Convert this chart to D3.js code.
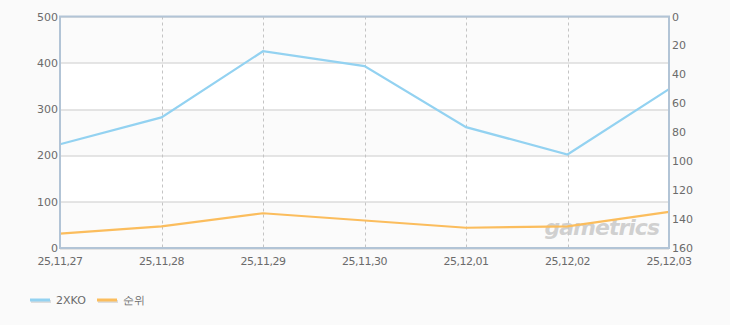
<!DOCTYPE html>
<html>
<head>
<meta charset="utf-8">
<script src="https://cdn.jsdelivr.net/npm/d3@7"></script>
<style>
  body { margin: 0; background: #fafafa; }
  text { font-family: 'DejaVu Sans', sans-serif; }
</style>
</head>
<body>
<script>
const width = 730
const height = 325

// data
const dates = ['25,11,27', '25,11,28', '25,11,29', '25,11,30', '25,12,01', '25,12,02', '25,12,03']
const viewers = [224, 282, 425, 393, 261, 202, 343]
const ranks = [150, 145, 136, 141, 146, 145, 135]
const leftTicks = [0, 100, 200, 300, 400, 500]
const rightTicks = [0, 20, 40, 60, 80, 100, 120, 140, 160]

const margin = { top: 16.5, left: 60, right: 61, bottom: 77 }
const pw = width - margin.left - margin.right
const ph = height - margin.top - margin.bottom

let svg = d3.select('body').append('svg')
  .attr('width', width)
  .attr('height', height)

let x = d3.scalePoint().domain(dates).range([0, pw])
let y = d3.scaleLinear().domain([0, 500]).range([ph, 0])
let yr = d3.scaleLinear().domain([0, 160]).range([0, ph])

let g = svg.append('g')
  .attr('transform', `translate(${margin.left},${margin.top})`)

// alternating bands
g.selectAll('rect.band')
  .data(d3.range(5))
  .enter()
  .append('rect')
  .attr('x', 0)
  .attr('width', pw)
  .attr('y', (i) => y(100 * (i + 1)))
  .attr('height', (i) => y(100 * i) - y(100 * (i + 1)))
  .attr('fill', (i) => i % 2 === 0 ? '#fbfbfb' : '#ffffff')

// horizontal grid
g.selectAll('line.hgrid')
  .data(leftTicks)
  .enter()
  .append('line')
  .attr('x1', 0)
  .attr('x2', pw)
  .attr('y1', (d) => Math.round(y(d)) + 0.5)
  .attr('y2', (d) => Math.round(y(d)) + 0.5)
  .attr('stroke', '#cccccc')

// vertical dashed grid
g.selectAll('line.vgrid')
  .data(dates)
  .enter()
  .append('line')
  .attr('x1', (d) => Math.round(x(d)) + 0.5)
  .attr('x2', (d) => Math.round(x(d)) + 0.5)
  .attr('y1', 0)
  .attr('y2', ph)
  .attr('stroke', '#c4c4c4')
  .attr('stroke-dasharray', '3,3')

// watermark
g.append('text')
  .attr('x', pw - 10)
  .attr('y', ph - 13)
  .attr('text-anchor', 'end')
  .attr('font-size', 22)
  .attr('font-weight', 'bold')
  .attr('font-style', 'italic')
  .attr('fill', '#c9c9c9')
  .attr('fill-opacity', 0.85)
  .attr('letter-spacing', -1)
  .text('gametrics')

// lines
let blueLine = d3.line()
  .x((d, i) => x(dates[i]))
  .y((d) => y(d))

let orangeLine = d3.line()
  .x((d, i) => x(dates[i]))
  .y((d) => yr(d))

g.append('path')
  .datum(viewers)
  .attr('d', blueLine)
  .attr('fill', 'none')
  .attr('stroke', '#93d2f1')
  .attr('stroke-width', 2.2)

g.append('path')
  .datum(ranks)
  .attr('d', orangeLine)
  .attr('fill', 'none')
  .attr('stroke', '#fbbd5d')
  .attr('stroke-width', 2.2)

// frame
g.append('rect')
  .attr('x', 0)
  .attr('y', 0)
  .attr('width', pw)
  .attr('height', ph)
  .attr('fill', 'none')
  .attr('stroke', '#b2c4d6')
  .attr('stroke-width', 2)

// left axis labels
g.selectAll('text.yl')
  .data(leftTicks)
  .enter()
  .append('text')
  .attr('x', -2)
  .attr('y', (d) => y(d) + 4)
  .attr('text-anchor', 'end')
  .attr('font-size', 11)
  .attr('fill', '#6b6b6b')
  .text((d) => d)

// right axis labels
g.selectAll('text.yr')
  .data(rightTicks)
  .enter()
  .append('text')
  .attr('x', pw + 3)
  .attr('y', (d) => yr(d) + 4)
  .attr('text-anchor', 'start')
  .attr('font-size', 11)
  .attr('fill', '#6b6b6b')
  .text((d) => d)

// date labels
g.selectAll('text.xl')
  .data(dates)
  .enter()
  .append('text')
  .attr('x', (d) => x(d))
  .attr('y', ph + 17)
  .attr('text-anchor', 'middle')
  .attr('font-size', 11)
  .attr('letter-spacing', -0.5)
  .attr('fill', '#6b6b6b')
  .text((d) => d)

// legend
const legendItems = [
  { name: '2XKO', color: '#93d2f1', x: 30 },
  { name: '순위', color: '#fbbd5d', x: 97 }
]

let legend = svg.append('g')
  .selectAll('g')
  .data(legendItems)
  .enter()
  .append('g')
  .attr('transform', (d) => `translate(${d.x},300)`)

legend.append('rect')
  .attr('x', 1)
  .attr('y', 0)
  .attr('width', 20)
  .attr('height', 3)
  .attr('fill', '#dddddd')

legend.append('rect')
  .attr('x', 0)
  .attr('y', -1.5)
  .attr('width', 20)
  .attr('height', 3)
  .attr('fill', (d) => d.color)

legend.append('text')
  .attr('x', 26)
  .attr('y', 4)
  .attr('font-size', 11)
  .attr('fill', '#6b6b6b')
  .text((d) => d.name)
</script>
</body>
</html>
